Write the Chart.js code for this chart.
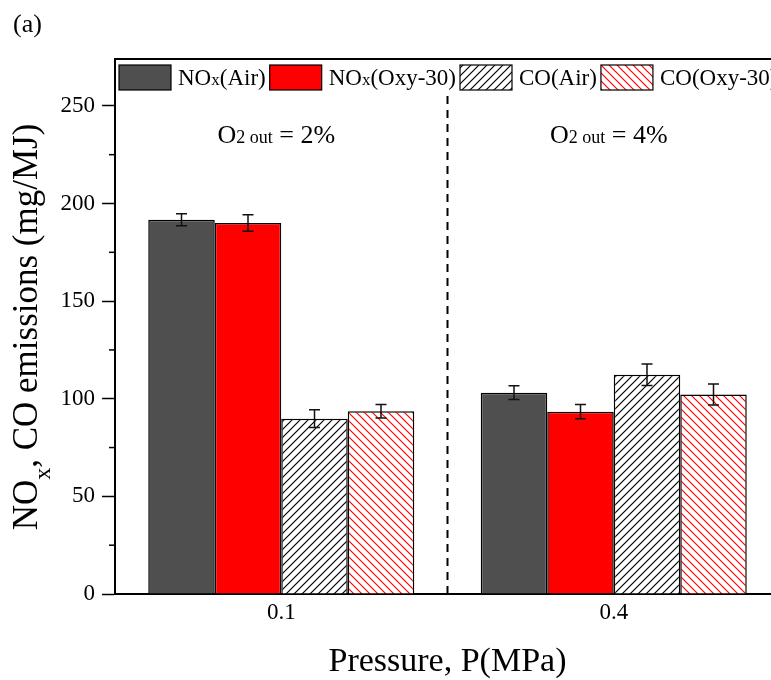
<!DOCTYPE html>
<html>
<head>
<meta charset="utf-8">
<script src="https://cdn.jsdelivr.net/npm/chart.js@4.4.0/dist/chart.umd.min.js"></script>
<style>
  html, body { margin: 0; padding: 0; background: #fff; overflow: hidden; }
  #wrap { position: relative; width: 771px; height: 680px; overflow: hidden; }
  #emChart { position: absolute; left: 0; top: 0; }
</style>
</head>
<body>
<div id="wrap"><canvas id="emChart" width="790" height="680"></canvas></div>
<script>
// data
const pressures = ['0.1', '0.4'];
const seriesNames = ['NOx(Air)', 'NOx(Oxy-30)', 'CO(Air)', 'CO(Oxy-30)'];
const noxAir = [191.7, 103.1];
const noxOxy = [190.0, 93.4];
const coAir = [89.8, 112.3];
const coOxy = [93.6, 102.2];
const noxAirErr = [3.1, 3.5];
const noxOxyErr = [4.2, 3.7];
const coAirErr = [4.5, 5.5];
const coOxyErr = [3.5, 5.4];
const o2Out = ['2%', '4%'];

const FONT = 'Liberation Serif';

function hatch(color, dir) {
  const c = document.createElement('canvas');
  c.width = 8; c.height = 8;
  const g = c.getContext('2d');
  g.fillStyle = '#fff';
  g.fillRect(0, 0, 8, 8);
  g.strokeStyle = color;
  g.lineWidth = 1.2;
  g.beginPath();
  if (dir === '/') {
    g.moveTo(-2, 10); g.lineTo(10, -2);
    g.moveTo(-2, 2); g.lineTo(2, -2);
    g.moveTo(6, 10); g.lineTo(10, 6);
  } else {
    g.moveTo(-2, -2); g.lineTo(10, 10);
    g.moveTo(-2, 6); g.lineTo(2, 10);
    g.moveTo(6, -2); g.lineTo(10, 2);
  }
  g.stroke();
  return g.createPattern(c, 'repeat');
}

const fills = ['#4f4f4f', '#ff0000', hatch('#000', '/'), hatch('#ff0000', '\\')];
const errors = [noxAirErr, noxOxyErr, coAirErr, coOxyErr];

// draw a label where "x" after "NO" is set smaller
function richText(ctx, parts, x, y) {
  let cx = x;
  parts.forEach(p => {
    ctx.font = p.size + 'px "' + FONT + '"';
    ctx.fillText(p.t, cx, y + (p.dy || 0));
    cx += ctx.measureText(p.t).width;
  });
  return cx - x;
}
function richWidth(ctx, parts) {
  let w = 0;
  parts.forEach(p => {
    ctx.font = p.size + 'px "' + FONT + '"';
    w += ctx.measureText(p.t).width;
  });
  return w;
}
function labelParts(name, big, small) {
  if (name.startsWith('NOx')) {
    return [{t: 'NO', size: big}, {t: 'x', size: small}, {t: name.slice(3), size: big}];
  }
  return [{t: name, size: big}];
}

const overlay = {
  id: 'overlay',
  beforeDatasetsDraw(chart) {
    const {ctx, chartArea, scales: {x, y}} = chart;
    ctx.save();
    ctx.strokeStyle = '#000';
    ctx.lineWidth = 2;
    ctx.setLineDash([8, 6]);
    const xm = x.getPixelForValue(0.5);
    ctx.beginPath();
    ctx.moveTo(xm, y.getPixelForValue(255));
    ctx.lineTo(xm, chartArea.bottom);
    ctx.stroke();
    ctx.restore();
  },
  afterDatasetsDraw(chart) {
    const {ctx, scales: {y}} = chart;
    ctx.save();
    ctx.strokeStyle = '#111';
    ctx.lineWidth = 1.5;
    chart.data.datasets.forEach((ds, i) => {
      const meta = chart.getDatasetMeta(i);
      meta.data.forEach((bar, j) => {
        const v = ds.data[j], e = errors[i][j];
        const yt = y.getPixelForValue(v + e), yb = y.getPixelForValue(v - e);
        ctx.beginPath();
        ctx.moveTo(bar.x, yt); ctx.lineTo(bar.x, yb);
        ctx.moveTo(bar.x - 5.5, yt); ctx.lineTo(bar.x + 5.5, yt);
        ctx.moveTo(bar.x - 5.5, yb); ctx.lineTo(bar.x + 5.5, yb);
        ctx.stroke();
      });
    });
    ctx.restore();
  },
  afterDraw(chart) {
    const {ctx, chartArea, scales: {x, y}} = chart;
    ctx.save();
    // top frame line
    ctx.strokeStyle = '#000';
    ctx.lineWidth = 2;
    ctx.beginPath();
    ctx.moveTo(chartArea.left - 1, chartArea.top);
    ctx.lineTo(chartArea.right, chartArea.top);
    ctx.stroke();
    // minor ticks
    ctx.lineWidth = 1.5;
    [25, 75, 125, 175, 225].forEach(v => {
      const py = y.getPixelForValue(v);
      ctx.beginPath();
      ctx.moveTo(chartArea.left - 6, py);
      ctx.lineTo(chartArea.left, py);
      ctx.stroke();
    });

    // legend inside the plot
    ctx.fillStyle = '#000';
    ctx.textBaseline = 'alphabetic';
    ctx.textAlign = 'left';
    let lx = chartArea.left + 4;
    const ly = chartArea.top + 6;
    seriesNames.forEach((name, i) => {
      ctx.fillStyle = fills[i];
      ctx.fillRect(lx, ly, 52, 25);
      ctx.strokeStyle = '#000';
      ctx.lineWidth = 1.2;
      ctx.strokeRect(lx, ly, 52, 25);
      lx += 52 + 7;
      ctx.fillStyle = '#000';
      lx += richText(ctx, labelParts(name, 23, 17), lx, ly + 20) + 4;
    });

    // O2 annotations
    o2Out.forEach((txt, i) => {
      const parts = [{t: 'O', size: 26}, {t: '2 out', size: 18}, {t: ' = ' + txt, size: 26}];
      const w = richWidth(ctx, parts);
      richText(ctx, parts, x.getPixelForValue(i) - 5 - w / 2, y.getPixelForValue(231));
    });

    // y axis title with subscript x
    const tParts = [{t: 'NO', size: 35}, {t: 'x', size: 24, dy: 13}, {t: ', CO emissions (mg/MJ)', size: 35}];
    const tw = richWidth(ctx, tParts);
    ctx.translate(37, 327);
    ctx.rotate(-Math.PI / 2);
    richText(ctx, tParts, -tw / 2, 0);
    ctx.restore();

    ctx.save();
    ctx.fillStyle = '#000';
    ctx.font = '26px "' + FONT + '"';
    ctx.fillText('(a)', 13, 32);
    ctx.restore();
  }
};

new Chart(document.getElementById('emChart'), {
  type: 'bar',
  data: {
    labels: pressures,
    datasets: [
      {label: seriesNames[0], data: noxAir, backgroundColor: fills[0]},
      {label: seriesNames[1], data: noxOxy, backgroundColor: fills[1]},
      {label: seriesNames[2], data: coAir, backgroundColor: fills[2]},
      {label: seriesNames[3], data: coOxy, backgroundColor: fills[3]}
    ].map(d => Object.assign(d, {
      borderColor: '#000',
      borderWidth: 1.5,
      categoryPercentage: 0.8,
      barPercentage: 1.0
    }))
  },
  options: {
    responsive: false,
    animation: false,
    layout: { padding: { left: 0, right: 10, top: 59, bottom: 0 } },
    plugins: { legend: { display: false }, tooltip: { enabled: false } },
    scales: {
      x: {
        grid: { display: false, drawTicks: false },
        border: { display: true, color: '#000', width: 2 },
        ticks: { color: '#000', font: { family: FONT, size: 23 }, padding: 5 },
        title: {
          display: true,
          text: 'Pressure, P(MPa)',
          color: '#000',
          font: { family: FONT, size: 34 },
          padding: { top: 0, bottom: -2 }
        },
        afterFit(scale) { scale.height = 86; }
      },
      y: {
        min: 0,
        max: 274,
        ticks: {
          stepSize: 50,
          includeBounds: false,
          color: '#000',
          font: { family: FONT, size: 23 },
          padding: 7
        },
        grid: { drawOnChartArea: false, tickLength: 13, tickColor: '#000', tickWidth: 1.5 },
        border: { color: '#000', width: 2 },
        afterFit(scale) { scale.width = 115; }
      }
    }
  },
  plugins: [overlay]
});
</script>
</body>
</html>
